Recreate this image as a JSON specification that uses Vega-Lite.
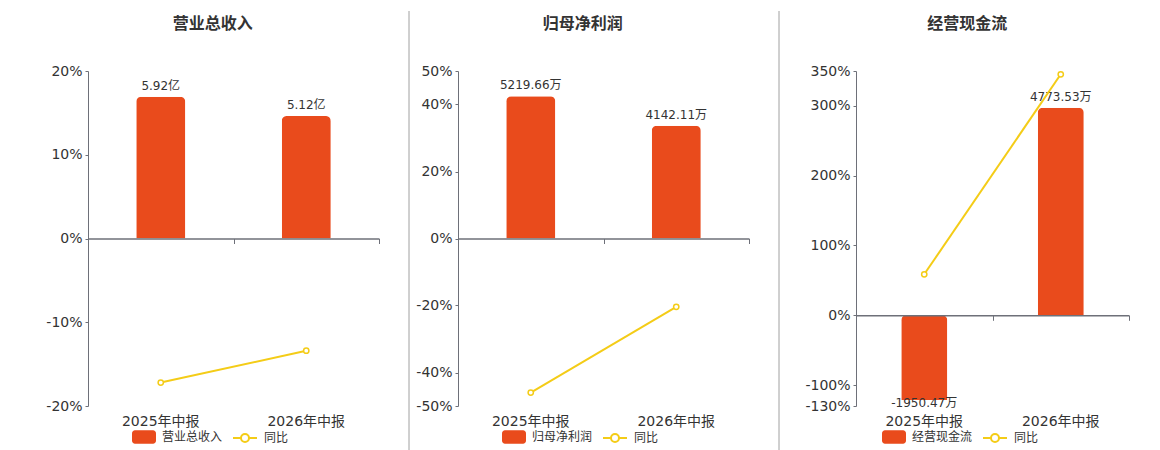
{
  "$schema": "https://vega.github.io/schema/vega-lite/v6.json",
  "autosize": {"type": "pad"},
  "padding": {"left": 45, "top": 10, "right": 0, "bottom": 0},
  "background": "white",
  "bounds": "flush",
  "center": true,
  "spacing": 30,
  "config": {
    "view": {"stroke": null},
    "font": "DejaVu Sans, Noto Sans CJK SC",
    "title": {"font": "DejaVu Sans, Noto Sans CJK SC"},
    "axis": {"labelFont": "DejaVu Sans, Noto Sans CJK SC"},
    "legend": {"labelFont": "DejaVu Sans, Noto Sans CJK SC"}
  },
  "resolve": {"scale": {"x": "independent", "y": "independent", "fill": "independent", "stroke": "independent"}},
  "hconcat": [
    {
      "title": {"text": "营业总收入", "frame": "bounds", "anchor": "middle", "fontSize": 16, "fontWeight": "bold", "color": "#333", "offset": 32},
      "width": 291,
      "height": 335,
      "data": {"values": [
        {"period": "2025年中报", "value": 5.92, "label": "5.92亿", "yoy": -17.2},
        {"period": "2026年中报", "value": 5.12, "label": "5.12亿", "yoy": -13.4}
      ]},
      "layer": [
        {
          "encoding": {
            "x": {"field": "period", "type": "nominal", "sort": null, "scale": {"paddingInner": 0, "paddingOuter": 0},
              "axis": {"orient": "bottom", "offset": -167.5, "labels": false, "title": null, "domainColor": "#6E7079", "domainWidth": 1.5, "tickColor": "#6E7079", "tickSize": 5, "tickBand": "extent", "grid": false, "zindex": 1}},
            "y": {"field": "value", "type": "quantitative", "scale": {"domain": [-7, 7], "nice": false, "zero": false}, "axis": null}
          },
          "layer": [
            {"mark": {"type": "bar", "width": {"band": 0.337}, "cornerRadiusEnd": 5},
             "encoding": {"fill": {"datum": "营业总收入", "type": "nominal", "scale": {"range": ["#E94B1C"]},
               "legend": {"orient": "none", "legendX": 44, "legendY": 354, "title": null, "symbolType": "M-0.75,-0.56 L0.75,-0.56 A0.25,0.25 0 0 1 1,-0.31 L1,0.31 A0.25,0.25 0 0 1 0.75,0.56 L-0.75,0.56 A0.25,0.25 0 0 1 -1,0.31 L-1,-0.31 A0.25,0.25 0 0 1 -0.75,-0.56 Z", "symbolSize": 576, "symbolStrokeWidth": 0, "labelFontSize": 12, "labelColor": "#333", "labelOffset": 6}}}},
            {"transform": [{"filter": "datum.value >= 0"}], "mark": {"type": "text", "dy": -11, "fontSize": 12, "color": "#333"}, "encoding": {"text": {"field": "label"}}},
            {"transform": [{"filter": "datum.value < 0"}], "mark": {"type": "text", "dy": 3, "fontSize": 12, "color": "#333"}, "encoding": {"text": {"field": "label"}}}
          ]
        },
        {
          "encoding": {
            "x": {"field": "period", "type": "nominal", "sort": null,
              "axis": {"orient": "bottom", "title": null, "domain": false, "ticks": false, "tickSize": 0, "labelPadding": 8, "labelAngle": 0, "labelFontSize": 14, "labelColor": "#333"}},
            "y": {"field": "yoy", "type": "quantitative", "scale": {"domain": [-20, 20], "nice": false, "zero": false},
              "axis": {"orient": "left", "title": null, "values": [-20, -10, 0, 10, 20], "labelExpr": "datum.value + '%'", "domainColor": "#6E7079", "tickColor": "#6E7079", "tickSize": 3, "labelPadding": 3, "gridColor": "#E0E6F1", "labelFontSize": 14, "labelColor": "#333"}},
            "stroke": {"datum": "同比", "type": "nominal", "scale": {"range": ["#F4CC17"]},
              "legend": {"orient": "none", "legendX": 144, "legendY": 354, "title": null, "symbolType": "M-1,0 L-0.333,0 M0.333,0 L1,0 M0.333,0 A0.333,0.333 0 1 1 -0.333,0 A0.333,0.333 0 1 1 0.333,0", "symbolSize": 576, "symbolStrokeWidth": 2, "symbolFillColor": "white", "labelFontSize": 12, "labelColor": "#333", "labelOffset": 6}}
          },
          "layer": [
            {"mark": {"type": "line", "strokeWidth": 2}},
            {"mark": {"type": "point", "filled": false, "fill": "white", "size": 28, "strokeWidth": 1.5, "opacity": 1}}
          ]
        }
      ],
      "resolve": {"scale": {"y": "independent"}, "axis": {"x": "independent"}}
    },
    {
      "width": 19,
      "height": 455,
      "data": {"values": [{"x": 0}]},
      "mark": {"type": "rule", "color": "#A0A0A0", "strokeWidth": 1},
      "encoding": {"x": {"field": "x", "type": "quantitative", "scale": {"domain": [0, 1]}, "axis": null}}
    },
    {
      "title": {"text": "归母净利润", "frame": "bounds", "anchor": "middle", "fontSize": 16, "fontWeight": "bold", "color": "#333", "offset": 32},
      "width": 291,
      "height": 335,
      "data": {"values": [
        {"period": "2025年中报", "value": 5219.66, "label": "5219.66万", "yoy": -46.0},
        {"period": "2026年中报", "value": 4142.11, "label": "4142.11万", "yoy": -20.4}
      ]},
      "layer": [
        {
          "encoding": {
            "x": {"field": "period", "type": "nominal", "sort": null, "scale": {"paddingInner": 0, "paddingOuter": 0},
              "axis": {"orient": "bottom", "offset": -167.5, "labels": false, "title": null, "domainColor": "#6E7079", "domainWidth": 1.5, "tickColor": "#6E7079", "tickSize": 5, "tickBand": "extent", "grid": false, "zindex": 1}},
            "y": {"field": "value", "type": "quantitative", "scale": {"domain": [-6150, 6150], "nice": false, "zero": false}, "axis": null}
          },
          "layer": [
            {"mark": {"type": "bar", "width": {"band": 0.337}, "cornerRadiusEnd": 5},
             "encoding": {"fill": {"datum": "归母净利润", "type": "nominal", "scale": {"range": ["#E94B1C"]},
               "legend": {"orient": "none", "legendX": 44, "legendY": 354, "title": null, "symbolType": "M-0.75,-0.56 L0.75,-0.56 A0.25,0.25 0 0 1 1,-0.31 L1,0.31 A0.25,0.25 0 0 1 0.75,0.56 L-0.75,0.56 A0.25,0.25 0 0 1 -1,0.31 L-1,-0.31 A0.25,0.25 0 0 1 -0.75,-0.56 Z", "symbolSize": 576, "symbolStrokeWidth": 0, "labelFontSize": 12, "labelColor": "#333", "labelOffset": 6}}}},
            {"transform": [{"filter": "datum.value >= 0"}], "mark": {"type": "text", "dy": -11, "fontSize": 12, "color": "#333"}, "encoding": {"text": {"field": "label"}}},
            {"transform": [{"filter": "datum.value < 0"}], "mark": {"type": "text", "dy": 3, "fontSize": 12, "color": "#333"}, "encoding": {"text": {"field": "label"}}}
          ]
        },
        {
          "encoding": {
            "x": {"field": "period", "type": "nominal", "sort": null,
              "axis": {"orient": "bottom", "title": null, "domain": false, "ticks": false, "tickSize": 0, "labelPadding": 8, "labelAngle": 0, "labelFontSize": 14, "labelColor": "#333"}},
            "y": {"field": "yoy", "type": "quantitative", "scale": {"domain": [-50, 50], "nice": false, "zero": false},
              "axis": {"orient": "left", "title": null, "values": [-50, -40, -20, 0, 20, 40, 50], "labelExpr": "datum.value + '%'", "domainColor": "#6E7079", "tickColor": "#6E7079", "tickSize": 3, "labelPadding": 3, "gridColor": "#E0E6F1", "labelFontSize": 14, "labelColor": "#333"}},
            "stroke": {"datum": "同比", "type": "nominal", "scale": {"range": ["#F4CC17"]},
              "legend": {"orient": "none", "legendX": 144, "legendY": 354, "title": null, "symbolType": "M-1,0 L-0.333,0 M0.333,0 L1,0 M0.333,0 A0.333,0.333 0 1 1 -0.333,0 A0.333,0.333 0 1 1 0.333,0", "symbolSize": 576, "symbolStrokeWidth": 2, "symbolFillColor": "white", "labelFontSize": 12, "labelColor": "#333", "labelOffset": 6}}
          },
          "layer": [
            {"mark": {"type": "line", "strokeWidth": 2}},
            {"mark": {"type": "point", "filled": false, "fill": "white", "size": 28, "strokeWidth": 1.5, "opacity": 1}}
          ]
        }
      ],
      "resolve": {"scale": {"y": "independent"}, "axis": {"x": "independent"}}
    },
    {
      "width": 47,
      "height": 455,
      "data": {"values": [{"x": 0}]},
      "mark": {"type": "rule", "color": "#A0A0A0", "strokeWidth": 1},
      "encoding": {"x": {"field": "x", "type": "quantitative", "scale": {"domain": [0, 1]}, "axis": null}}
    },
    {
      "title": {"text": "经营现金流", "frame": "bounds", "anchor": "middle", "fontSize": 16, "fontWeight": "bold", "color": "#333", "offset": 32},
      "width": 273,
      "height": 335,
      "data": {"values": [
        {"period": "2025年中报", "value": -1950.47, "label": "-1950.47万", "yoy": 58.7},
        {"period": "2026年中报", "value": 4773.53, "label": "4773.53万", "yoy": 345.3}
      ]},
      "layer": [
        {
          "encoding": {
            "x": {"field": "period", "type": "nominal", "sort": null, "scale": {"paddingInner": 0, "paddingOuter": 0},
              "axis": {"orient": "bottom", "offset": -90.7, "labels": false, "title": null, "domainColor": "#6E7079", "domainWidth": 1.5, "tickColor": "#6E7079", "tickSize": 5, "tickBand": "extent", "grid": false, "zindex": 1}},
            "y": {"field": "value", "type": "quantitative", "scale": {"domain": [-2086, 5617], "nice": false, "zero": false}, "axis": null}
          },
          "layer": [
            {"mark": {"type": "bar", "width": {"band": 0.337}, "cornerRadiusEnd": 5},
             "encoding": {"fill": {"datum": "经营现金流", "type": "nominal", "scale": {"range": ["#E94B1C"]},
               "legend": {"orient": "none", "legendX": 26, "legendY": 354, "title": null, "symbolType": "M-0.75,-0.56 L0.75,-0.56 A0.25,0.25 0 0 1 1,-0.31 L1,0.31 A0.25,0.25 0 0 1 0.75,0.56 L-0.75,0.56 A0.25,0.25 0 0 1 -1,0.31 L-1,-0.31 A0.25,0.25 0 0 1 -0.75,-0.56 Z", "symbolSize": 576, "symbolStrokeWidth": 0, "labelFontSize": 12, "labelColor": "#333", "labelOffset": 6}}}},
            {"transform": [{"filter": "datum.value >= 0"}], "mark": {"type": "text", "dy": -11, "fontSize": 12, "color": "#333"}, "encoding": {"text": {"field": "label"}}},
            {"transform": [{"filter": "datum.value < 0"}], "mark": {"type": "text", "dy": 3, "fontSize": 12, "color": "#333"}, "encoding": {"text": {"field": "label"}}}
          ]
        },
        {
          "encoding": {
            "x": {"field": "period", "type": "nominal", "sort": null,
              "axis": {"orient": "bottom", "title": null, "domain": false, "ticks": false, "tickSize": 0, "labelPadding": 8, "labelAngle": 0, "labelFontSize": 14, "labelColor": "#333"}},
            "y": {"field": "yoy", "type": "quantitative", "scale": {"domain": [-130, 350], "nice": false, "zero": false},
              "axis": {"orient": "left", "title": null, "values": [-130, -100, 0, 100, 200, 300, 350], "labelExpr": "datum.value + '%'", "domainColor": "#6E7079", "tickColor": "#6E7079", "tickSize": 3, "labelPadding": 3, "gridColor": "#E0E6F1", "labelFontSize": 14, "labelColor": "#333"}},
            "stroke": {"datum": "同比", "type": "nominal", "scale": {"range": ["#F4CC17"]},
              "legend": {"orient": "none", "legendX": 126, "legendY": 354, "title": null, "symbolType": "M-1,0 L-0.333,0 M0.333,0 L1,0 M0.333,0 A0.333,0.333 0 1 1 -0.333,0 A0.333,0.333 0 1 1 0.333,0", "symbolSize": 576, "symbolStrokeWidth": 2, "symbolFillColor": "white", "labelFontSize": 12, "labelColor": "#333", "labelOffset": 6}}
          },
          "layer": [
            {"mark": {"type": "line", "strokeWidth": 2}},
            {"mark": {"type": "point", "filled": false, "fill": "white", "size": 28, "strokeWidth": 1.5, "opacity": 1}}
          ]
        }
      ],
      "resolve": {"scale": {"y": "independent"}, "axis": {"x": "independent"}}
    }
  ]
}
